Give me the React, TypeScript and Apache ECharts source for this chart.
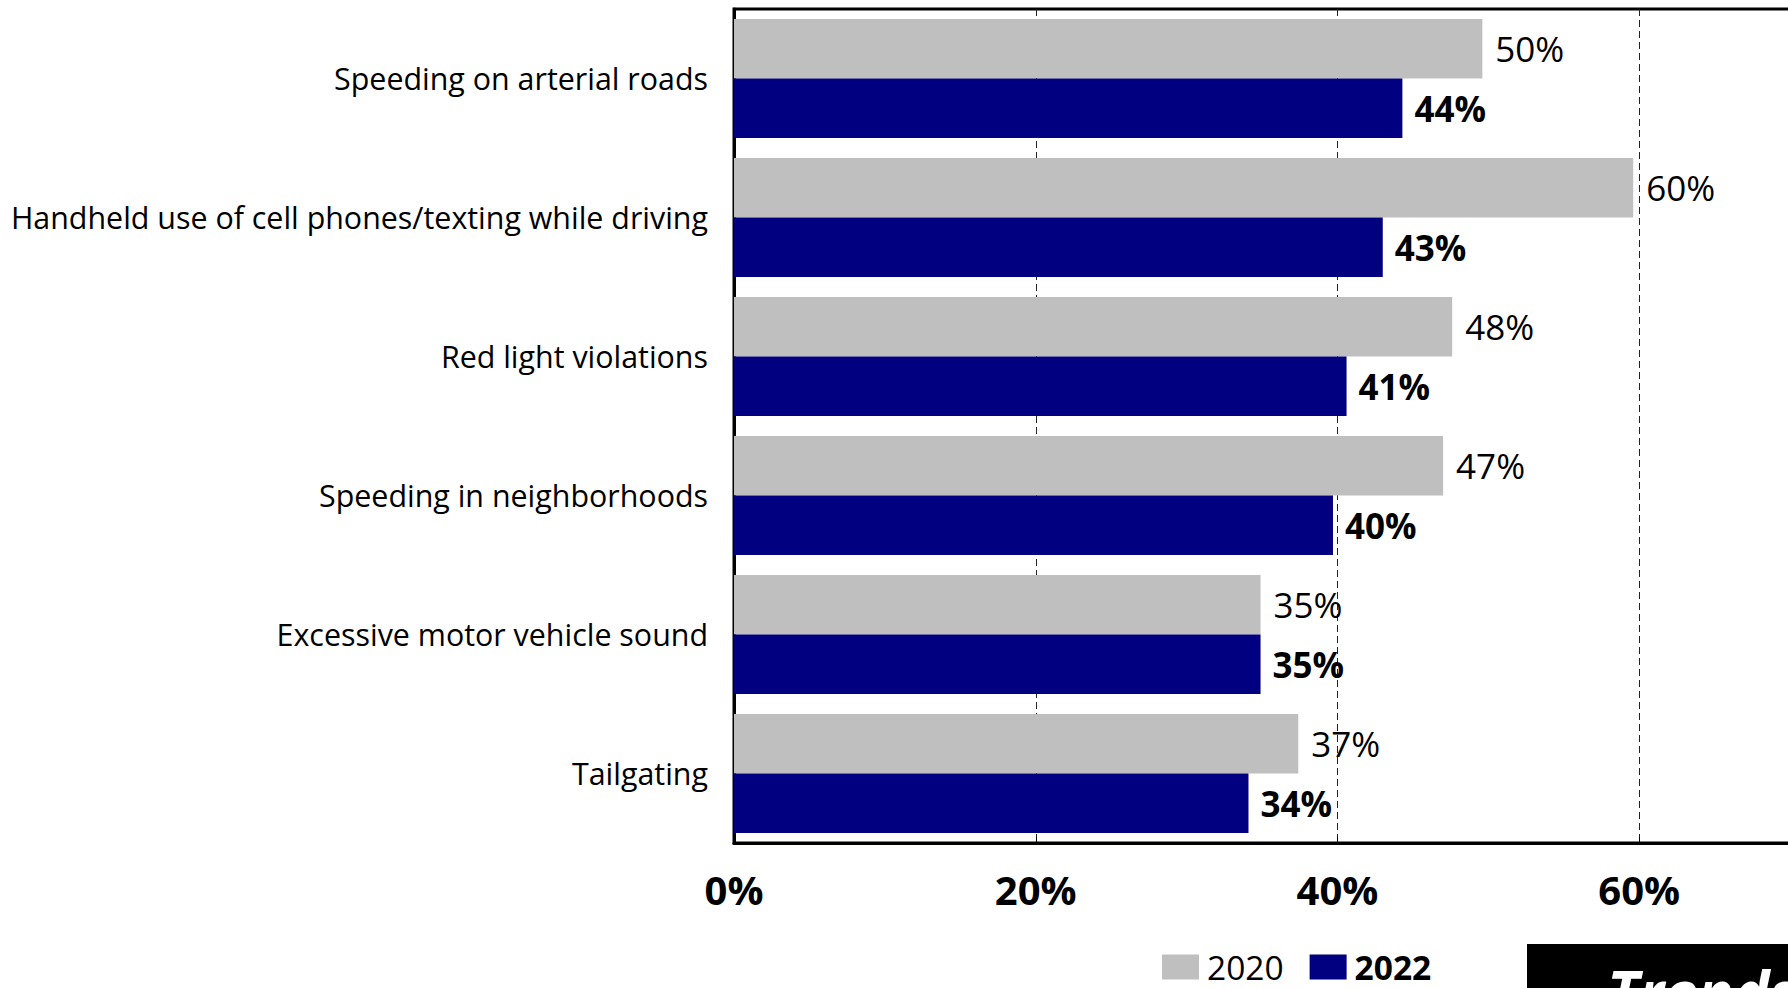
import React, { useEffect, useRef } from "react";
import * as echarts from "echarts";

const categories = [
  "Speeding on arterial roads",
  "Handheld use of cell phones/texting while driving",
  "Red light violations",
  "Speeding in neighborhoods",
  "Excessive motor vehicle sound",
  "Tailgating",
];
const values2020 = [49.6, 59.6, 47.6, 47.0, 34.9, 37.4];
const values2022 = [44.3, 43.0, 40.6, 39.7, 34.9, 34.1];
const seriesNames = ["2020", "2022"];
const xTicks = [0, 20, 40, 60, 80];
const badgeText = "Trends";

const FONT = "'Open Sans', 'Noto Sans', sans-serif";

export default function App() {
  const ref = useRef<HTMLDivElement>(null);
  useEffect(() => {
    if (!ref.current) return;
    const chart = echarts.init(ref.current, undefined, { renderer: "svg" });
    const pct = (p: any) => `${Math.round(p.value)}%`;
    chart.setOption({
      animation: false,
      backgroundColor: "#ffffff",
      textStyle: { fontFamily: FONT, color: "#000" },
      grid: {
        left: 734,
        top: 9,
        width: 1207,
        height: 834,
        containLabel: false,
        outerBoundsMode: "none",
        show: true,
        borderColor: "#000",
        borderWidth: 3,
        backgroundColor: "transparent",
      },
      xAxis: {
        type: "value",
        min: xTicks[0],
        max: xTicks[xTicks.length - 1],
        interval: 20,
        axisLine: { show: true, lineStyle: { color: "#000", width: 3 } },
        axisTick: { show: true, inside: true, length: 6, lineStyle: { color: "#000", width: 1 } },
        splitLine: { show: true, lineStyle: { color: "#222", width: 1, type: [7, 4] } },
        axisLabel: {
          formatter: (v: number) => `${v}%`,
          fontFamily: FONT,
          fontSize: 40,
          fontWeight: "bold",
          color: "#000",
          margin: 26,
          showMaxLabel: false,
        },
      },
      yAxis: {
        type: "category",
        data: categories,
        inverse: true,
        axisLine: { show: true, lineStyle: { color: "#000", width: 3 } },
        axisTick: { show: false },
        axisLabel: {
          fontFamily: FONT,
          fontSize: 30.4,
          color: "#000",
          margin: 26,
        },
      },
      legend: {
        left: 1162,
        top: 950,
        padding: 0,
        itemWidth: 37,
        itemHeight: 25,
        itemGap: 26,
        icon: "rect",
        textStyle: { fontFamily: FONT, fontSize: 33.5, lineHeight: 32, color: "#000", padding: [0, 0, 0, 3] },
        data: [
          { name: seriesNames[0] },
          { name: seriesNames[1], textStyle: { fontWeight: "bold" } },
        ],
      },
      series: [
        {
          name: seriesNames[0],
          type: "bar",
          data: values2020,
          barGap: "0%",
          barCategoryGap: "14.4%",
          itemStyle: { color: "#BFBFBF" },
          label: {
            show: true,
            position: "right",
            distance: 13,
            formatter: pct,
            fontFamily: FONT,
            fontSize: 35,
            color: "#000",
          },
        },
        {
          name: seriesNames[1],
          type: "bar",
          data: values2022,
          barGap: "0%",
          barCategoryGap: "14.4%",
          itemStyle: { color: "#000080" },
          label: {
            show: true,
            position: "right",
            distance: 12,
            formatter: pct,
            fontFamily: FONT,
            fontSize: 35,
            fontWeight: "bold",
            color: "#000",
          },
        },
      ],
      graphic: [
        {
          type: "rect",
          shape: { x: 1527, y: 944, width: 300, height: 60 },
          style: { fill: "#000" },
          z: 10,
        },
        {
          type: "text",
          x: 1607,
          y: 962,
          z: 11,
          style: {
            text: badgeText,
            fill: "#fff",
            fontFamily: FONT,
            fontSize: 60,
            fontWeight: "bold",
            fontStyle: "italic",
            textVerticalAlign: "top",
          },
        },
      ],
    });
    return () => chart.dispose();
  }, []);
  return (
    <div
      ref={ref}
      style={{ position: "fixed", left: 0, top: 0, width: 1788, height: 988, overflow: "hidden", background: "#fff" }}
    />
  );
}
